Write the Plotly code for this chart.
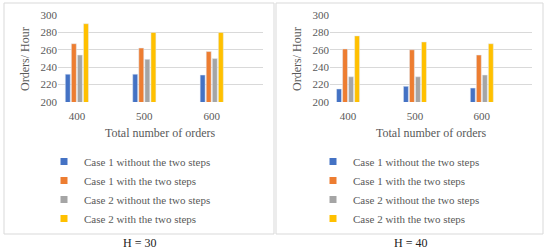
import plotly.graph_objects as go

categories = ["400", "500", "600"]
series_names = ["Case 1 without the two steps", "Case 1 with the two steps",
                "Case 2 without the two steps", "Case 2 with the two steps"]
colors = ["#4472C4", "#ED7D31", "#A5A5A5", "#FFC000"]

h30_values = [
    [232, 232, 231],
    [267, 262, 258],
    [254, 249, 250],
    [290, 280, 280],
]
h40_values = [
    [215, 218, 216],
    [261, 260, 254],
    [229, 229, 231],
    [276, 269, 267],
]
panel_labels = ["H = 30", "H = 40"]
y_ticks = [200, 220, 240, 260, 280, 300]

W, H = 550, 251
FONT = "Liberation Serif"
GRID = "#d9d9d9"
TXT = "#595959"

fig = go.Figure()

xpos = list(range(len(categories)))
panels = [
    (h30_values, "x", "y", "legend"),
    (h40_values, "x2", "y2", "legend2"),
]
for vals, xa, ya, lg in panels:
    for name, col, v in zip(series_names, colors, vals):
        fig.add_trace(go.Bar(x=xpos, y=v, name=name, marker_color=col,
                             xaxis=xa, yaxis=ya, showlegend=False,
                             offsetgroup=name))
        fig.add_trace(go.Scatter(x=[None], y=[None], mode="markers", name=name,
                                 marker=dict(symbol="square", size=7, color=col),
                                 xaxis=xa, yaxis=ya, legend=lg, showlegend=True))

def px(x):
    return x / W

def py(y):
    return 1 - y / H

ydom = [py(102), py(15)]
xaxis_common = dict(tickmode="array", tickvals=xpos, ticktext=categories,
                    showgrid=False, zeroline=False, showline=False,
                    tickfont=dict(family=FONT, size=11, color=TXT),
                    ticks="", ticklabelstandoff=6, automargin=False)
yaxis_common = dict(range=[200, 300], tickvals=y_ticks, showgrid=True,
                    gridcolor=GRID, gridwidth=1, zeroline=False, showline=False,
                    tickfont=dict(family=FONT, size=11, color=TXT),
                    ticks="", domain=ydom, automargin=False)

fig.update_layout(
    width=W, height=H, margin=dict(l=0, r=0, t=0, b=0, pad=0, autoexpand=False),
    paper_bgcolor="white", plot_bgcolor="white",
    barmode="group", bargap=0.64, bargroupgap=0.18,
    font=dict(family=FONT, color=TXT),
    xaxis=dict(domain=[px(58), px(263)], range=[-0.28, 2.76], anchor="y", **xaxis_common),
    yaxis=dict(anchor="x", **yaxis_common),
    xaxis2=dict(domain=[px(330), px(532)], range=[-0.27, 2.75], anchor="y2", **xaxis_common),
    yaxis2=dict(anchor="x2", **yaxis_common),
    legend=dict(x=px(44), y=py(147), xanchor="left", yanchor="top",
                font=dict(family=FONT, size=11, color=TXT), bgcolor="rgba(0,0,0,0)"),
    legend2=dict(x=px(313), y=py(147), xanchor="left", yanchor="top",
                 font=dict(family=FONT, size=11, color=TXT), bgcolor="rgba(0,0,0,0)"),
)

# panel frames
for x0, x1 in [(4, 274), (276, 543)]:
    fig.add_shape(type="rect", xref="paper", yref="paper",
                  x0=px(x0), x1=px(x1), y0=py(234), y1=py(3),
                  line=dict(color=GRID, width=1), fillcolor="rgba(0,0,0,0)", layer="below")

# axis titles and panel labels
for cx, tx, lab in [(160, 25, panel_labels[0]), (431, 297, panel_labels[1])]:
    fig.add_annotation(text="Total number of orders", x=px(cx), y=py(133),
                       xref="paper", yref="paper", showarrow=False,
                       xanchor="center", yanchor="middle",
                       font=dict(family=FONT, size=12, color=TXT))
    fig.add_annotation(text="Orders/ Hour", x=px(tx), y=py(59), textangle=-90,
                       xref="paper", yref="paper", showarrow=False,
                       xanchor="center", yanchor="middle",
                       font=dict(family=FONT, size=12, color=TXT))
    fig.add_annotation(text=lab, x=px(139 if cx == 160 else 410), y=py(243),
                       xref="paper", yref="paper", showarrow=False,
                       xanchor="center", yanchor="middle",
                       font=dict(family=FONT, size=12, color="#222222"))

fig.write_html("out.html", config={"displayModeBar": False},
               post_script="document.body.style.margin='0px';")
